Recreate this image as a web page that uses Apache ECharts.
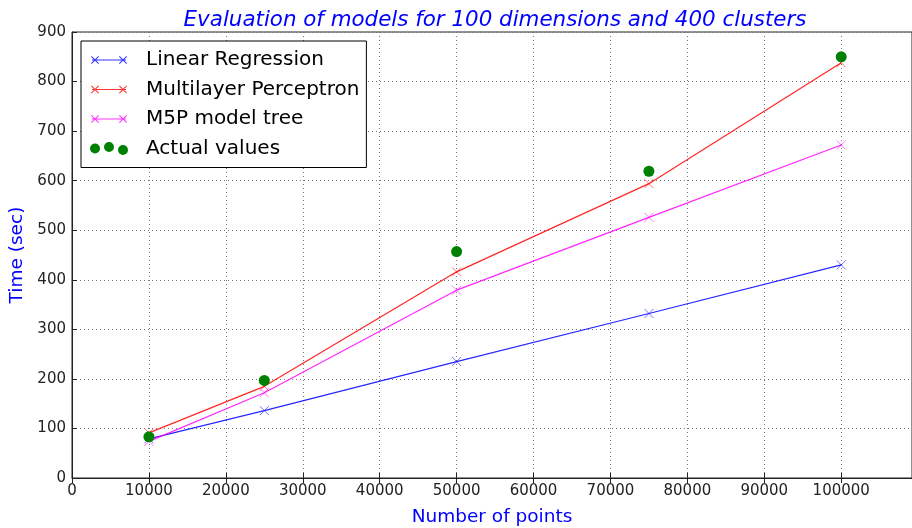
<!DOCTYPE html>
<html>
<head>
<meta charset="utf-8">
<script src="https://cdn.jsdelivr.net/npm/echarts@6/dist/echarts.min.js"></script>
<style>html,body{margin:0;padding:0;background:#fff}#c{width:912px;height:528px}</style>
</head>
<body>
<div id="c"></div>
<script>
var points = [10000, 25000, 50000, 75000, 100000];
var linearRegression = [79, 136, 235, 332, 430];
var multilayerPerceptron = [91, 185, 416, 594, 838];
var m5pModelTree = [74, 172, 379, 526, 672];
var actualValues = [83, 197, 457, 619, 850];
var seriesNames = ['Linear Regression', 'Multilayer Perceptron', 'M5P model tree', 'Actual values'];
var titleText = 'Evaluation of models for 100 dimensions and 400 clusters';
var xName = 'Number of points';
var yName = 'Time (sec)';

function pairs(xs, ys) { return xs.map(function (x, i) { return [x, ys[i]]; }); }

var FONT = 'DejaVu Sans';
var corners = 'M0,0h0.01v0.01h-0.01Z M38,13.5h0.01v0.01h-0.01Z ';
function xMark(cx, cy) {
  var h = 4, t = 0.7;
  return 'M' + (cx - h) + ',' + (cy - h + t) + 'L' + (cx - h + t) + ',' + (cy - h) + 'L' + (cx + h) + ',' + (cy + h - t) + 'L' + (cx + h - t) + ',' + (cy + h) + 'Z ' +
         'M' + (cx + h - t) + ',' + (cy - h) + 'L' + (cx + h) + ',' + (cy - h + t) + 'L' + (cx - h + t) + ',' + (cy + h) + 'L' + (cx - h) + ',' + (cy + h - t) + 'Z ';
}
var lineIcon = 'path://' + corners + 'M2,6.2L36,6.2L36,7.3L2,7.3Z ' + xMark(5, 6.75) + xMark(33, 6.75);
function circ(cx, cy, r) { return 'M' + (cx - r) + ',' + cy + 'A' + r + ',' + r + ' 0 1,0 ' + (cx + r) + ',' + cy + 'A' + r + ',' + r + ' 0 1,0 ' + (cx - r) + ',' + cy + 'Z '; }
var dotIcon = 'path://' + circ(5, 7, 5) + circ(19, 5.5, 5) + circ(33, 8.5, 5);

var xSymbol = 'path://M0,0L10,10M10,0L0,10';

function lineSeries(name, data, color) {
  return {
    name: name, type: 'line', data: pairs(points, data),
    symbol: xSymbol, symbolSize: 9, showAllSymbol: true,
    lineStyle: { color: color, width: 1.2, opacity: 0.85 },
    itemStyle: { color: 'none', borderColor: color, borderWidth: 1, opacity: 0.55 },
    emphasis: { disabled: true }, animation: false
  };
}

var chart = echarts.init(document.getElementById('c'), null, { renderer: 'canvas' });
chart.setOption({
  backgroundColor: '#fff',
  animation: false,
  title: {
    text: titleText, left: 490, top: 5, textAlign: 'center',
    textStyle: { fontFamily: FONT, fontSize: 21.4, fontStyle: 'italic', fontWeight: 'normal', color: '#0000ff' }
  },
  legend: {
    orient: 'vertical', left: 81, top: 41,
    padding: [8, 7, 8, 9], itemGap: 7.5,
    itemWidth: 38, itemHeight: 13.5,
    backgroundColor: '#fff', borderColor: '#000', borderWidth: 1, borderRadius: 0,
    textStyle: { fontFamily: FONT, fontSize: 20, color: '#000', lineHeight: 22, padding: [0, 0, 0, 13] },
    data: [
      { name: seriesNames[0], icon: lineIcon, itemStyle: { color: '#0000ff', opacity: 0.8, borderWidth: 0 } },
      { name: seriesNames[1], icon: lineIcon, itemStyle: { color: '#ff0000', opacity: 0.8, borderWidth: 0 } },
      { name: seriesNames[2], icon: lineIcon, itemStyle: { color: '#ff00ff', opacity: 0.8, borderWidth: 0 } },
      { name: seriesNames[3], icon: dotIcon, itemStyle: { color: '#008000', opacity: 1, borderWidth: 0 } }
    ]
  },
  grid: { left: 72, right: 0, top: 32, bottom: 50, show: true, borderColor: '#222', borderWidth: 1,
    backgroundColor: 'transparent', containLabel: false, outerBoundsMode: 'none' },
  xAxis: [{
    type: 'value', min: 0, max: 109200, interval: 10000, position: 'bottom',
    name: xName, nameLocation: 'middle', nameGap: 30,
    nameTextStyle: { fontFamily: FONT, fontSize: 18.5, color: '#0000ff' },
    axisLine: { show: true, onZero: false, lineStyle: { color: '#222', width: 1 } },
    axisTick: { show: true, inside: true, length: 5, lineStyle: { color: '#222' } },
    axisLabel: { fontFamily: FONT, fontSize: 15, color: '#222', margin: 6, showMaxLabel: false,
      formatter: function (v) { return String(v); } },
    splitLine: { show: true, lineStyle: { color: '#777', type: [1, 3], width: 1 } }
  }, {
    type: 'value', min: 0, max: 109200, interval: 10000, position: 'top',
    axisLine: { show: false },
    axisTick: { show: true, inside: true, length: 5, lineStyle: { color: '#222' } },
    axisLabel: { show: false }, splitLine: { show: false }
  }],
  yAxis: {
    type: 'value', min: 0, max: 900, interval: 100,
    name: yName, nameLocation: 'middle', nameGap: 41, nameRotate: 90,
    nameTextStyle: { fontFamily: FONT, fontSize: 18.5, color: '#0000ff' },
    axisLine: { show: true, onZero: false, lineStyle: { color: '#222', width: 1 } },
    axisTick: { show: true, inside: true, length: 5, lineStyle: { color: '#222' } },
    axisLabel: { fontFamily: FONT, fontSize: 15, color: '#222', margin: 6 },
    splitLine: { show: true, lineStyle: { color: '#777', type: [1, 3], width: 1 } }
  },
  series: [
    lineSeries(seriesNames[0], linearRegression, '#0000ff'),
    lineSeries(seriesNames[1], multilayerPerceptron, '#ff0000'),
    lineSeries(seriesNames[2], m5pModelTree, '#ff00ff'),
    {
      name: seriesNames[3], type: 'scatter', data: pairs(points, actualValues),
      symbol: 'circle', symbolSize: 11, z: 5,
      itemStyle: { color: '#008000', opacity: 1 },
      emphasis: { disabled: true }
    }
  ]
});
</script>
</body>
</html>
